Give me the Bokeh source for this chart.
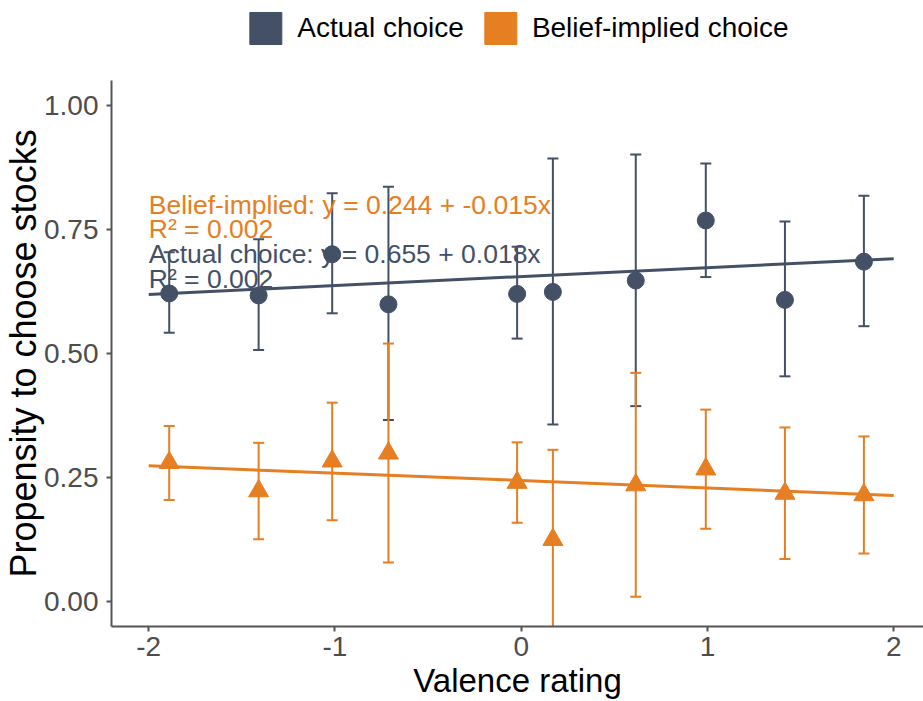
from bokeh.plotting import figure
from bokeh.layouts import column
from bokeh.models import (ColumnDataSource, Label, Legend, LegendItem, Range1d,
                          FixedTicker)
from bokeh.embed import file_html
from bokeh.resources import INLINE

# ---------------- data ----------------
valence = [-1.89, -1.41, -1.015, -0.713, -0.022, 0.170, 0.615, 0.991, 1.416, 1.840]

actual_mean = [0.621, 0.617, 0.700, 0.599, 0.620, 0.624, 0.647, 0.768, 0.608, 0.685]
actual_lower = [0.542, 0.507, 0.581, 0.366, 0.530, 0.357, 0.394, 0.654, 0.454, 0.555]
actual_upper = [0.704, 0.730, 0.823, 0.836, 0.715, 0.893, 0.901, 0.883, 0.766, 0.818]

belief_mean = [0.280, 0.223, 0.283, 0.299, 0.240, 0.125, 0.235, 0.267, 0.218, 0.215]
belief_lower = [0.205, 0.126, 0.164, 0.079, 0.159, -0.056, 0.010, 0.147, 0.086, 0.097]
belief_upper = [0.354, 0.320, 0.401, 0.520, 0.321, 0.306, 0.461, 0.387, 0.351, 0.333]

actual_intercept, actual_slope, actual_r2 = 0.655, 0.018, 0.002
belief_intercept, belief_slope, belief_r2 = 0.244, -0.015, 0.002
fit_x = [-2, 2]

x_ticks = [-2, -1, 0, 1, 2]
x_tick_labels = ["-2", "-1", "0", "1", "2"]
y_ticks = [0, 0.25, 0.5, 0.75, 1.0]
y_tick_labels = ["0.00", "0.25", "0.50", "0.75", "1.00"]

series_names = ["Actual choice", "Belief-implied choice"]

# ---------------- style ----------------
NAVY = "#435066"
ORANGE = "#E67E22"
FONT = "Liberation Sans"

p = figure(width=923, height=646, output_backend="svg", toolbar_location=None,
           x_range=Range1d(-2.2, 2.16), y_range=Range1d(-0.05, 1.05),
           min_border_left=111, min_border_right=0, min_border_top=25,
           min_border_bottom=75)
p.outline_line_color = None
p.xgrid.visible = False
p.ygrid.visible = False
p.background_fill_color = "white"
p.border_fill_color = "white"

src_a = ColumnDataSource(dict(x=valence, m=actual_mean, lo=actual_lower, hi=actual_upper))
src_b = ColumnDataSource(dict(x=valence, m=belief_mean, lo=belief_lower, hi=belief_upper))

# error bars (glyphs so they are clipped to the panel)
for src, col in ((src_a, NAVY), (src_b, ORANGE)):
    p.segment(x0="x", y0="lo", x1="x", y1="hi", source=src, line_color=col, line_width=2)
    p.scatter(x="x", y="hi", source=src, marker="dash", size=11, line_color=col, line_width=2)
    p.scatter(x="x", y="lo", source=src, marker="dash", size=11, line_color=col, line_width=2)

# regression lines
p.line(fit_x, [belief_intercept + belief_slope * v for v in fit_x], line_color=ORANGE, line_width=3)
p.line(fit_x, [actual_intercept + actual_slope * v for v in fit_x], line_color=NAVY, line_width=3)

# points
p.scatter(x="x", y="m", source=src_a, marker="circle", size=17, fill_color=NAVY, line_color=NAVY)
p.scatter(x="x", y="m", source=src_b, marker="triangle", size=20, fill_color=ORANGE, line_color=ORANGE)

# annotations
ann = [
    (f"Belief-implied: y = {belief_intercept:.3f} + {belief_slope:.3f}x", 0.80, ORANGE),
    (f"R\u00b2 = {belief_r2:.3f}", 0.75, ORANGE),
    (f"Actual choice: y = {actual_intercept:.3f} + {actual_slope:.3f}x", 0.70, NAVY),
    (f"R\u00b2 = {actual_r2:.3f}", 0.65, NAVY),
]
for txt, yy, col in ann:
    p.add_layout(Label(x=-2, y=yy, text=txt, text_color=col, text_font=FONT,
                       text_font_size="26.5px", text_align="left",
                       text_baseline="alphabetic"))

# axes
for ax in (p.xaxis[0], p.yaxis[0]):
    ax.axis_line_color = "#555555"
    ax.axis_line_width = 2
    ax.major_tick_line_color = "#555555"
    ax.major_tick_line_width = 2
    ax.major_tick_out = 5
    ax.major_tick_in = 0
    ax.minor_tick_line_color = None
    ax.major_label_text_font = FONT
    ax.major_label_text_font_size = "28px"
    ax.major_label_text_color = "#4D4D4D"
    ax.axis_label_text_font = FONT
    ax.axis_label_text_font_style = "normal"
    ax.axis_label_text_color = "black"
    ax.axis_label_text_line_height = 1.0

p.xaxis.axis_label_text_font_size = "33px"
p.yaxis.axis_label_text_font_size = "36px"
p.xaxis.ticker = FixedTicker(ticks=x_ticks)
p.xaxis.major_label_overrides = dict(zip(x_ticks, x_tick_labels))
p.yaxis.ticker = FixedTicker(ticks=y_ticks)
p.yaxis.major_label_overrides = dict(zip(y_ticks, y_tick_labels))
p.xaxis.axis_label = "Valence rating"
p.yaxis.axis_label = "Propensity to choose stocks"
p.xaxis.major_label_standoff = 5
p.yaxis.major_label_standoff = 8
p.xaxis.axis_label_standoff = 3
p.yaxis.axis_label_standoff = -3

# legend strip above the plot (legend-only renderers, kept outside the strip's range)
lg = figure(width=923, height=55, output_backend="svg", toolbar_location=None,
            x_range=Range1d(0, 1), y_range=Range1d(0, 1),
            min_border_left=111, min_border_right=0, min_border_top=0, min_border_bottom=0)
lg.axis.visible = False
lg.grid.visible = False
lg.outline_line_color = None
lg.border_fill_color = "white"
lg.background_fill_color = "white"
ra = lg.quad(left=[5], right=[6], top=[6], bottom=[5], fill_color=NAVY, line_color=NAVY)
rb = lg.quad(left=[5], right=[6], top=[6], bottom=[5], fill_color=ORANGE, line_color=ORANGE)
legend = Legend(items=[LegendItem(label=series_names[0], renderers=[ra]),
                       LegendItem(label=series_names[1], renderers=[rb])],
                orientation="horizontal", location="center",
                glyph_width=40, glyph_height=40, label_standoff=12, spacing=16,
                padding=0, margin=0, label_text_font=FONT, label_text_font_size="28px",
                label_text_color="black", background_fill_alpha=0, border_line_alpha=0)
lg.add_layout(legend, "center")

open("out.html", "w").write(file_html(column(lg, p, spacing=0), INLINE))
